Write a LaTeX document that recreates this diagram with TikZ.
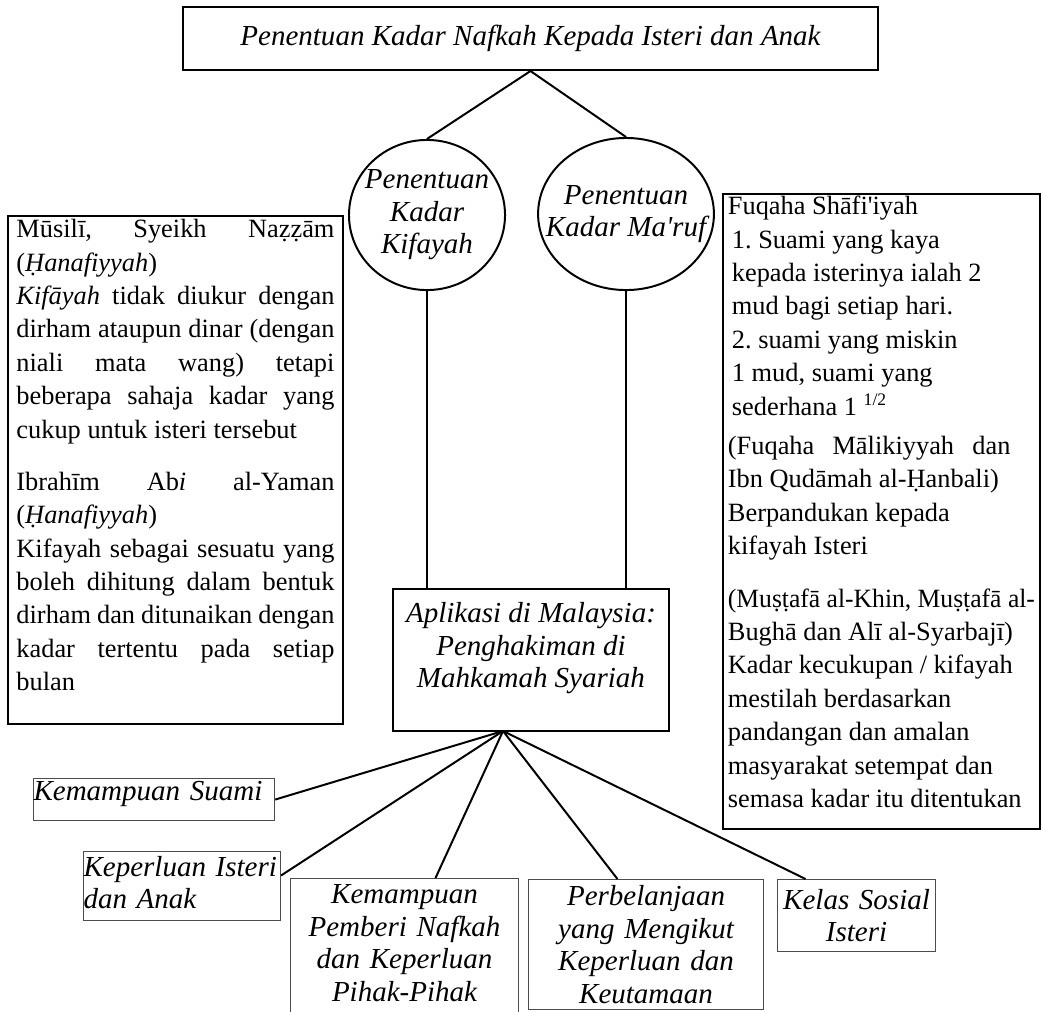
\documentclass[tikz,border=0pt]{standalone}
\usepackage{fontspec}
\setmainfont{Liberation Serif}
\usepackage{graphicx}
\usetikzlibrary{shapes.geometric}

\newcommand{\boxfont}{\fontsize{13.2}{14.8}\selectfont\itshape}
\newcommand{\notefont}{\fontsize{12}{15.2}\selectfont}
\newcommand{\jline}[1]{\makebox[\linewidth][s]{#1}\par}

\begin{document}
\frenchspacing
\begin{tikzpicture}[x=0.455pt,y=-0.455pt,
    link/.style={line width=0.9pt},
    mainbox/.style={draw,line width=0.9pt,inner sep=0pt,font=\boxfont,align=center},
    kadar/.style={ellipse,draw,line width=0.9pt,inner sep=0pt},
    kadartext/.style={font=\boxfont,align=center},
    notebox/.style={draw,line width=0.9pt,anchor=north west,font=\notefont},
    factor/.style={draw=black!70,line width=0.5pt,inner sep=0pt,anchor=north west,font=\boxfont}]
  \useasboundingbox (0,0) rectangle (1043,1011);
  \node[mainbox,minimum width=316.2pt,minimum height=28.7pt] (title) at (530.5,38.5) {Penentuan Kadar Nafkah Kepada Isteri dan Anak};
  \node[kadar,minimum width=71pt,minimum height=68.3pt,label={[kadartext]center:Penentuan\\Kadar\\Kifayah}] (c1) at (427,215) {};
  \node[kadar,minimum width=80pt,minimum height=69.2pt,label={[kadartext]center:Penentuan\\Kadar Ma\textquotesingle ruf}] (c2) at (626,214) {};
  \draw[link] (title.south) -- (c1.north);
  \draw[link] (title.south) -- (c2.north);
  % pendapat fuqaha
  \node[notebox,inner xsep=3.85pt,inner ysep=1.5pt] (hanafi) at (7,215) {%
    \begin{minipage}[t][228.1pt][t]{144.7pt}
      \jline{Mūsilī, Syeikh Naẓẓām}
      (\textit{Ḥanafiyyah})\par
      \jline{\textit{Kifāyah} tidak diukur dengan}
      \jline{dirham ataupun dinar (dengan}
      \jline{niali mata wang) tetapi}
      \jline{beberapa sahaja kadar yang}
      cukup untuk isteri tersebut\par
      \vspace{8.6pt}
      \jline{Ibrahīm Ab\textit{i} al-Yaman}
      (\textit{Ḥanafiyyah})\par
      \jline{Kifayah sebagai sesuatu yang}
      \jline{boleh dihitung dalam bentuk}
      \jline{dirham dan ditunaikan dengan}
      \jline{kadar tertentu pada setiap}
      bulan
    \end{minipage}};
  \node[notebox,inner xsep=2.25pt,inner ysep=1pt] (fuqaha) at (722,193) {%
    \begin{minipage}[t][286.9pt][t]{139.7pt}
      Fuqaha Shāfi\textquotesingle iyah\par
      {\leftskip=1.8pt
      1. Suami yang kaya\par
      kepada isterinya ialah 2\par
      mud bagi setiap hari.\par
      2. suami yang miskin\par
      1 mud, suami yang\par
      sederhana 1 \textsuperscript{1/2}\par}
      \vspace{2.7pt}
      \makebox[0.92\linewidth][s]{(Fuqaha Mālikiyyah dan}\par
      Ibn Qudāmah al-Ḥanbali)\par
      Berpandukan kepada\par
      kifayah Isteri\par
      \vspace{8.6pt}
      \resizebox{\linewidth}{\height}{(Muṣṭafā al-Khin, Muṣṭafā al-}\par
      Bughā dan Alī al-Syarbajī)\par
      Kadar kecukupan / kifayah\par
      mestilah berdasarkan\par
      pandangan dan amalan\par
      masyarakat setempat dan\par
      semasa kadar itu ditentukan
    \end{minipage}};
  % aplikasi
  \node[mainbox,minimum width=125.6pt,minimum height=64.6pt,text depth=13.5pt] (apl) at (531,660) {Aplikasi di Malaysia:\\Penghakiman di\\Mahkamah Syariah};
  \draw[link] (c1.south) -- (c1.south |- apl.north);
  \draw[link] (c2.south) -- (c2.south |- apl.north);
  \coordinate (hub) at (503,731);
  \node[factor,text width=109.7pt,align=left,minimum height=19.1pt,text depth=7.6pt] (suami) at (33,778) {Kemampuan Suami};
  \node[factor,text width=89.6pt,align=left,minimum height=31.4pt,text depth=18.1pt] (isteri) at (83,851) {Keperluan Isteri\\dan Anak};
  \node[factor,text width=103.7pt,align=center,minimum height=77.4pt,text depth=63.3pt] (pemberi) at (290,878) {Kemampuan\\Pemberi Nafkah\\dan Keperluan\\Pihak-Pihak};
  \node[factor,text width=106.9pt,align=center,minimum height=59.2pt] (belanja) at (528,879) {Perbelanjaan\\yang Mengikut\\Keperluan dan\\Keutamaan};
  \node[factor,text width=71.9pt,align=center,minimum height=32.8pt] (kelas) at (777,879) {Kelas Sosial\\Isteri};
  \draw[link] (hub) -- (suami.east);
  \draw[link] (hub) -- ([yshift=4.8pt]isteri.east);
  \draw[link] (hub) -- ([xshift=14.1pt]pemberi.north);
  \draw[link] (hub) -- ([xshift=-13pt]belanja.north);
  \draw[link] (hub) -- ([xshift=-23.2pt]kelas.north);
\end{tikzpicture}
\end{document}
